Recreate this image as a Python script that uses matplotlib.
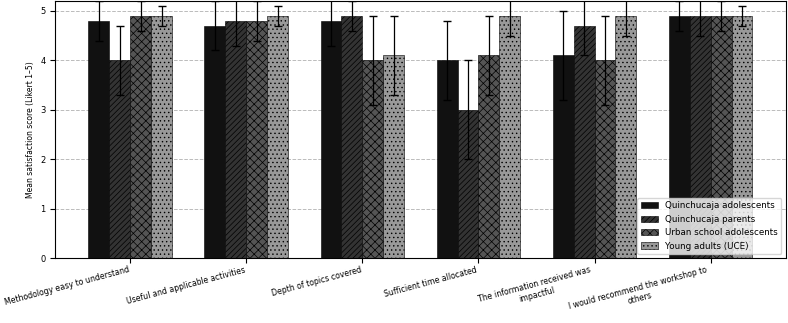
import numpy as np
import matplotlib.pyplot as plt

items = [
    "Methodology easy to understand",
    "Useful and applicable activities",
    "Depth of topics covered",
    "Sufficient time allocated",
    "The information received was\nimpactful",
    "I would recommend the workshop to\nothers",
]
groups = ["Quinchucaja adolescents", "Quinchucaja parents",
          "Urban school adolescents", "Young adults (UCE)"]

q_adol = [4.8, 4.7, 4.8, 4.0, 4.1, 4.9]
q_par = [4.0, 4.8, 4.9, 3.0, 4.7, 4.9]
urban = [4.9, 4.8, 4.0, 4.1, 4.0, 4.9]
uce = [4.9, 4.9, 4.1, 4.9, 4.9, 4.9]

q_adol_sd = [0.4, 0.5, 0.5, 0.8, 0.9, 0.3]
q_par_sd = [0.7, 0.5, 0.3, 1.0, 0.6, 0.4]
urban_sd = [0.3, 0.4, 0.9, 0.8, 0.9, 0.3]
uce_sd = [0.2, 0.2, 0.8, 0.4, 0.4, 0.2]

means = [q_adol, q_par, urban, uce]
sds = [q_adol_sd, q_par_sd, urban_sd, uce_sd]
colors = ["#111111", "#333333", "#555555", "#999999"]
hatches = ["", "//////", "xxxx", "...."]

plt.rcParams["hatch.color"] = "black"
plt.rcParams["hatch.linewidth"] = 0.5

fig, ax = plt.subplots(figsize=(7.88, 3.23), dpi=100)
x = np.arange(len(items))
w = 0.18
for i in range(4):
    ax.bar(x + (i - 1.5) * w, means[i], w, yerr=sds[i], capsize=3,
           color=colors[i], hatch=hatches[i], edgecolor="black",
           linewidth=0.4, label=groups[i], zorder=2,
           error_kw=dict(elinewidth=0.9, ecolor="black"))

ax.set_ylim(0, 5.2)
ax.set_ylabel("Mean satisfaction score (Likert 1\u20135)", fontsize=5.5)
ax.set_xticks(x)
ax.set_xticklabels(items, rotation=15, ha="right", multialignment="center", fontsize=5.6)
ax.tick_params(axis="x", pad=1.5)
ax.tick_params(axis="y", labelsize=6)
ax.yaxis.grid(True, linestyle="--", color="#bbbbbb", linewidth=0.7, zorder=0)
ax.set_axisbelow(True)
ax.legend(loc="lower right", fontsize=6.3, framealpha=0.8)

fig.subplots_adjust(left=0.07, right=0.997, top=0.997, bottom=0.2)
fig.savefig("out.png")
